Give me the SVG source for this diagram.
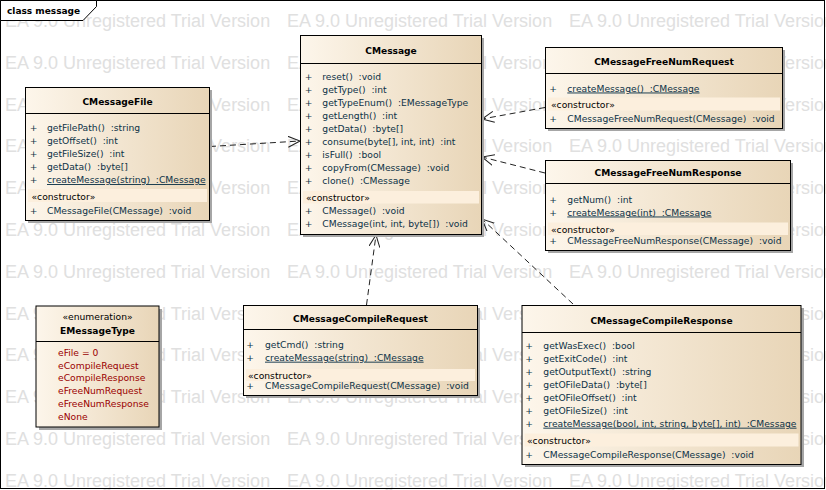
<svg xmlns="http://www.w3.org/2000/svg" width="826" height="490" viewBox="0 0 826 490">
<defs>
<linearGradient id="fillg" x1="0" y1="0" x2="1" y2="0">
<stop offset="0" stop-color="#fdf6eb"/>
<stop offset="1" stop-color="#e8d5b7"/>
</linearGradient>
<marker id="arr" markerUnits="userSpaceOnUse" markerWidth="14" markerHeight="12" refX="12" refY="6" orient="auto" viewBox="0 0 14 12">
<path d="M0,0.5 L12,6 L0,11.5" fill="none" stroke="#222" stroke-width="1"/>
</marker>
<style>
.wm{font-family:"Liberation Sans",Arial,sans-serif;font-size:18px;fill:#e0e0e0}
.box{fill:url(#fillg);stroke:#000;stroke-width:1}
.shadow{fill:#a6a6a6}
.sep{stroke:#000;stroke-width:1}
.band{fill:#fcefdd}
.t{font-family:"DejaVu Sans",Verdana,sans-serif;font-size:9.2px;fill:#0d3247;white-space:pre}
.pm{text-anchor:middle}
.u{text-decoration:underline}
.title{font-family:"DejaVu Sans",Verdana,sans-serif;font-size:9.1px;font-weight:bold;fill:#000;text-anchor:middle}
.st{font-family:"DejaVu Sans",Verdana,sans-serif;font-size:9.2px;fill:#000}
.stc{font-family:"DejaVu Sans",Verdana,sans-serif;font-size:9.2px;fill:#000;text-anchor:middle}
.lit{font-family:"DejaVu Sans",Verdana,sans-serif;font-size:9.2px;fill:#9a0000}
.dep{fill:none;stroke:#222;stroke-width:1;stroke-dasharray:6,4;marker-end:url(#arr)}
.frame{fill:none;stroke:#000;stroke-width:1}
.tab{fill:#fff;stroke:#000;stroke-width:1}
.tabt{font-family:"DejaVu Sans",Verdana,sans-serif;font-size:9px;font-weight:bold;fill:#000}
</style>
</defs>
<rect x="0" y="0" width="826" height="490" fill="#fff"/>
<g id="watermark" class="wm">
<text x="5" y="27">EA 9.0 Unregistered Trial Version</text><text x="287" y="27">EA 9.0 Unregistered Trial Version</text><text x="569" y="27">EA 9.0 Unregistered Trial Version</text>
<text x="5" y="68.8">EA 9.0 Unregistered Trial Version</text><text x="287" y="68.8">EA 9.0 Unregistered Trial Version</text><text x="569" y="68.8">EA 9.0 Unregistered Trial Version</text>
<text x="5" y="110.6">EA 9.0 Unregistered Trial Version</text><text x="287" y="110.6">EA 9.0 Unregistered Trial Version</text><text x="569" y="110.6">EA 9.0 Unregistered Trial Version</text>
<text x="5" y="152.4">EA 9.0 Unregistered Trial Version</text><text x="287" y="152.4">EA 9.0 Unregistered Trial Version</text><text x="569" y="152.4">EA 9.0 Unregistered Trial Version</text>
<text x="5" y="194.2">EA 9.0 Unregistered Trial Version</text><text x="287" y="194.2">EA 9.0 Unregistered Trial Version</text><text x="569" y="194.2">EA 9.0 Unregistered Trial Version</text>
<text x="5" y="236">EA 9.0 Unregistered Trial Version</text><text x="287" y="236">EA 9.0 Unregistered Trial Version</text><text x="569" y="236">EA 9.0 Unregistered Trial Version</text>
<text x="5" y="277.8">EA 9.0 Unregistered Trial Version</text><text x="287" y="277.8">EA 9.0 Unregistered Trial Version</text><text x="569" y="277.8">EA 9.0 Unregistered Trial Version</text>
<text x="5" y="319.6">EA 9.0 Unregistered Trial Version</text><text x="287" y="319.6">EA 9.0 Unregistered Trial Version</text><text x="569" y="319.6">EA 9.0 Unregistered Trial Version</text>
<text x="5" y="361.4">EA 9.0 Unregistered Trial Version</text><text x="287" y="361.4">EA 9.0 Unregistered Trial Version</text><text x="569" y="361.4">EA 9.0 Unregistered Trial Version</text>
<text x="5" y="403.2">EA 9.0 Unregistered Trial Version</text><text x="287" y="403.2">EA 9.0 Unregistered Trial Version</text><text x="569" y="403.2">EA 9.0 Unregistered Trial Version</text>
<text x="5" y="445">EA 9.0 Unregistered Trial Version</text><text x="287" y="445">EA 9.0 Unregistered Trial Version</text><text x="569" y="445">EA 9.0 Unregistered Trial Version</text>
<text x="5" y="486.8">EA 9.0 Unregistered Trial Version</text><text x="287" y="486.8">EA 9.0 Unregistered Trial Version</text><text x="569" y="486.8">EA 9.0 Unregistered Trial Version</text>
</g>
<g id="frame">
<rect class="frame" x="0.5" y="0.5" width="824" height="488"/>
<polygon class="tab" points="0.5,0.5 96.5,0.5 96.5,6.5 83,20.5 0.5,20.5"/>
<text class="tabt" x="7" y="14">class message</text>
</g>
<g id="connectors">
<path class="dep" d="M210,146.5 L300,141"/>
<path class="dep" d="M545,107.5 L482,119"/>
<path class="dep" d="M545,173 L482,157"/>
<path class="dep" d="M366.5,305 L376,235"/>
<path class="dep" d="M573,304 L482,219"/>
</g>
<g id="CMessageFile">
<rect class="shadow" x="28" y="90" width="184" height="133"/>
<rect class="box" x="25.5" y="87.5" width="184" height="133"/>
<line class="sep" x1="25.5" y1="113.5" x2="209.5" y2="113.5"/>
<rect class="band" x="28" y="189" width="179" height="13"/>
<text class="title" x="117.5" y="105">CMessageFile</text>
<text class="t pm" x="33.5" y="131">+</text><text class="t" x="47" y="131">getFilePath()  :string</text>
<text class="t pm" x="33.5" y="144">+</text><text class="t" x="47" y="144">getOffset()  :int</text>
<text class="t pm" x="33.5" y="157">+</text><text class="t" x="47" y="157">getFileSize()  :int</text>
<text class="t pm" x="33.5" y="170">+</text><text class="t" x="47" y="170">getData()  :byte[]</text>
<text class="t pm" x="33.5" y="183">+</text><text class="t u" x="47" y="183">createMessage(string)  :CMessage</text>
<text class="st" x="31.5" y="199.5">«constructor»</text>
<text class="t pm" x="33.5" y="213.5">+</text><text class="t" x="47" y="213.5">CMessageFile(CMessage)  :void</text>
</g>
<g id="CMessage">
<rect class="shadow" x="303" y="38" width="181" height="199"/>
<rect class="box" x="300.5" y="35.5" width="181" height="199"/>
<line class="sep" x1="300.5" y1="63.5" x2="481.5" y2="63.5"/>
<rect class="band" x="303" y="191" width="176" height="12.5"/>
<text class="title" x="391" y="54">CMessage</text>
<text class="t pm" x="308.5" y="80">+</text><text class="t" x="322.3" y="80">reset()  :void</text>
<text class="t pm" x="308.5" y="93">+</text><text class="t" x="322.3" y="93">getType()  :int</text>
<text class="t pm" x="308.5" y="106">+</text><text class="t" x="322.3" y="106">getTypeEnum()  :EMessageType</text>
<text class="t pm" x="308.5" y="119">+</text><text class="t" x="322.3" y="119">getLength()  :int</text>
<text class="t pm" x="308.5" y="132">+</text><text class="t" x="322.3" y="132">getData()  :byte[]</text>
<text class="t pm" x="308.5" y="145">+</text><text class="t" x="322.3" y="145">consume(byte[], int, int)  :int</text>
<text class="t pm" x="308.5" y="158">+</text><text class="t" x="322.3" y="158">isFull()  :bool</text>
<text class="t pm" x="308.5" y="171">+</text><text class="t" x="322.3" y="171">copyFrom(CMessage)  :void</text>
<text class="t pm" x="308.5" y="184">+</text><text class="t" x="322.3" y="184">clone()  :CMessage</text>
<text class="st" x="306" y="200.5">«constructor»</text>
<text class="t pm" x="308.5" y="214">+</text><text class="t" x="322.3" y="214">CMessage()  :void</text>
<text class="t pm" x="308.5" y="227">+</text><text class="t" x="322.3" y="227">CMessage(int, int, byte[])  :void</text>
</g>
<g id="CMessageFreeNumRequest">
<rect class="shadow" x="548" y="50" width="237" height="81"/>
<rect class="box" x="545.5" y="47.5" width="237" height="81"/>
<line class="sep" x1="545.5" y1="73.5" x2="782.5" y2="73.5"/>
<rect class="band" x="548" y="97.5" width="232" height="13"/>
<text class="title" x="664" y="65">CMessageFreeNumRequest</text>
<text class="t pm" x="553" y="91.5">+</text><text class="t u" x="567.3" y="91.5">createMessage()  :CMessage</text>
<text class="st" x="551" y="107.5">«constructor»</text>
<text class="t pm" x="553" y="121.5">+</text><text class="t" x="567.3" y="121.5">CMessageFreeNumRequest(CMessage)  :void</text>
</g>
<g id="CMessageFreeNumResponse">
<rect class="shadow" x="548" y="163" width="245" height="90"/>
<rect class="box" x="545.5" y="160.5" width="245" height="90"/>
<line class="sep" x1="545.5" y1="183.5" x2="790.5" y2="183.5"/>
<rect class="band" x="548" y="222.5" width="240" height="12.5"/>
<text class="title" x="668" y="176">CMessageFreeNumResponse</text>
<text class="t pm" x="553" y="202.5">+</text><text class="t" x="567.3" y="202.5">getNum()  :int</text>
<text class="t pm" x="553" y="215.5">+</text><text class="t u" x="567.3" y="215.5">createMessage(int)  :CMessage</text>
<text class="st" x="551" y="232.5">«constructor»</text>
<text class="t pm" x="553" y="244">+</text><text class="t" x="567.3" y="244">CMessageFreeNumResponse(CMessage)  :void</text>
</g>
<g id="EMessageType">
<rect class="shadow" x="39" y="309" width="123" height="121"/>
<rect class="box" x="36" y="306" width="123" height="121"/>
<line class="sep" x1="36" y1="341.5" x2="159" y2="341.5"/>
<text class="stc" x="97.5" y="319.5">«enumeration»</text>
<text class="title" x="97.5" y="333.5">EMessageType</text>
<text class="lit" x="58" y="355.8">eFile = 0</text>
<text class="lit" x="58" y="368.6">eCompileRequest</text>
<text class="lit" x="58" y="381.4">eCompileResponse</text>
<text class="lit" x="58" y="394.2">eFreeNumRequest</text>
<text class="lit" x="58" y="407">eFreeNumResponse</text>
<text class="lit" x="58" y="419.8">eNone</text>
</g>
<g id="CMessageCompileRequest">
<rect class="shadow" x="246" y="308" width="234" height="90"/>
<rect class="box" x="243.5" y="305.5" width="234" height="90"/>
<line class="sep" x1="243.5" y1="329.5" x2="477.5" y2="329.5"/>
<rect class="band" x="246" y="369" width="229" height="12"/>
<text class="title" x="360.5" y="321.7">CMessageCompileRequest</text>
<text class="t pm" x="250" y="347.7">+</text><text class="t" x="265" y="347.7">getCmd()  :string</text>
<text class="t pm" x="250" y="360.7">+</text><text class="t u" x="265" y="360.7">createMessage(string)  :CMessage</text>
<text class="st" x="248" y="378.5">«constructor»</text>
<text class="t pm" x="250" y="389">+</text><text class="t" x="265" y="389">CMessageCompileRequest(CMessage)  :void</text>
</g>
<g id="CMessageCompileResponse">
<rect class="shadow" x="525" y="308" width="279" height="159"/>
<rect class="box" x="522" y="305.5" width="279" height="159"/>
<line class="sep" x1="522" y1="332.5" x2="801" y2="332.5"/>
<rect class="band" x="524.5" y="433.5" width="274" height="13"/>
<text class="title" x="661.5" y="323.5">CMessageCompileResponse</text>
<text class="t pm" x="529" y="348.7">+</text><text class="t" x="543.3" y="348.7">getWasExec()  :bool</text>
<text class="t pm" x="529" y="361.7">+</text><text class="t" x="543.3" y="361.7">getExitCode()  :int</text>
<text class="t pm" x="529" y="374.7">+</text><text class="t" x="543.3" y="374.7">getOutputText()  :string</text>
<text class="t pm" x="529" y="387.7">+</text><text class="t" x="543.3" y="387.7">getOFileData()  :byte[]</text>
<text class="t pm" x="529" y="400.7">+</text><text class="t" x="543.3" y="400.7">getOFileOffset()  :int</text>
<text class="t pm" x="529" y="413.7">+</text><text class="t" x="543.3" y="413.7">getOFileSize()  :int</text>
<text class="t pm" x="529" y="426.7">+</text><text class="t u" x="543.3" y="426.7">createMessage(bool, int, string, byte[], int)  :CMessage</text>
<text class="st" x="527" y="444">«constructor»</text>
<text class="t pm" x="529" y="457.5">+</text><text class="t" x="543.3" y="457.5">CMessageCompileResponse(CMessage)  :void</text>
</g>
</svg>
